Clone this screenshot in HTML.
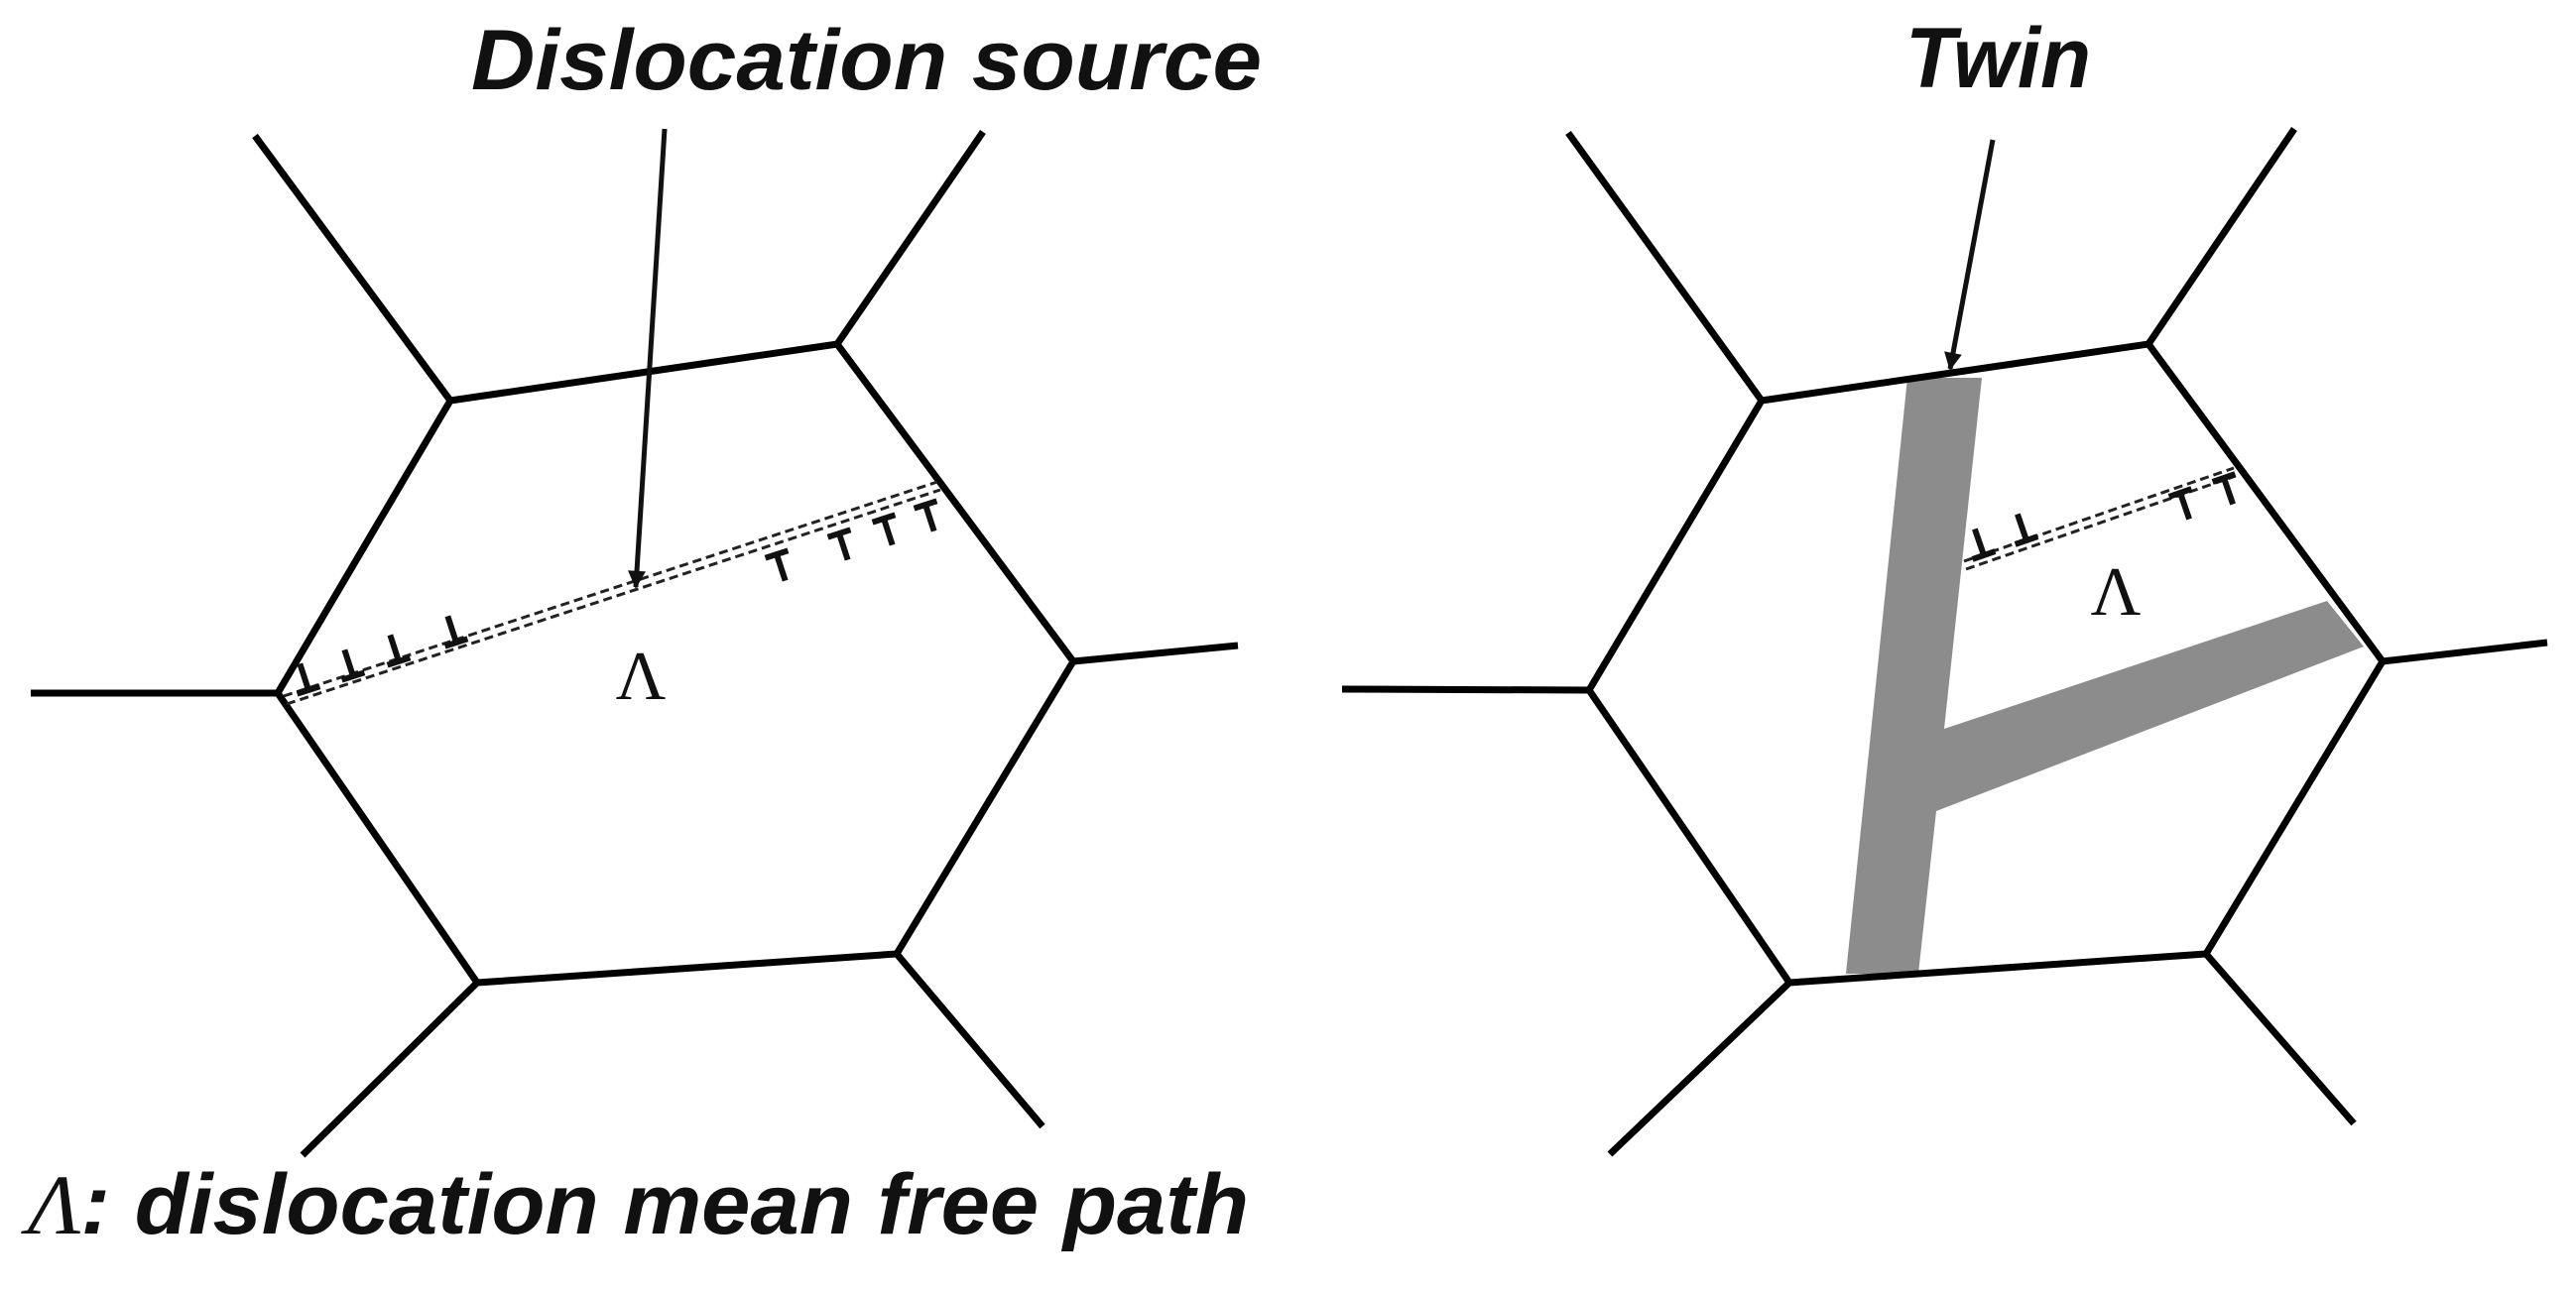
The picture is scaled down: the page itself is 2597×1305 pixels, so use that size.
<!DOCTYPE html>
<html><head><meta charset="utf-8"><style>
html,body{margin:0;padding:0;background:#fff;}
svg{display:block;}
.t{font-family:"Liberation Sans",sans-serif;font-weight:bold;font-style:italic;fill:#111;}
.g{font-family:"Liberation Serif",serif;fill:#111;}
</style></head><body>
<svg width="2597" height="1305" viewBox="0 0 2597 1305" xmlns="http://www.w3.org/2000/svg">
<defs>
<g id="perp"><line x1="0" y1="0" x2="0" y2="-28" stroke="#111" stroke-width="6"/><line x1="-12" y1="0" x2="12" y2="0" stroke="#111" stroke-width="6"/></g>
<g id="tee"><line x1="0" y1="0" x2="0" y2="28" stroke="#111" stroke-width="6"/><line x1="-12" y1="0" x2="12" y2="0" stroke="#111" stroke-width="6"/></g>
<marker id="ah" viewBox="0 0 10 10" refX="9" refY="5" markerWidth="26" markerHeight="18" orient="auto" markerUnits="userSpaceOnUse"><path d="M0,0 L10,5 L0,10 z" fill="#111"/></marker>
</defs>
<g stroke="#000" stroke-width="7" fill="none" stroke-linejoin="miter">
<polygon points="454,404 844,347 1082,667 904,962 481,991 280,699"/>
<line x1="454" y1="404" x2="257" y2="137"/>
<line x1="844" y1="347" x2="991" y2="133"/>
<line x1="1082" y1="667" x2="1248" y2="651"/>
<line x1="904" y1="962" x2="1051" y2="1136"/>
<line x1="481" y1="991" x2="305" y2="1165"/>
<line x1="280" y1="699" x2="31" y2="699"/>
</g>
<polygon points="1923,381 1998,381 1960,735 2346,606 2383,652 1952,818 1934,982 1861,982" fill="#8c8c8c"/>
<g stroke="#000" stroke-width="7" fill="none">
<polygon points="1776,404 2166,347 2402,667 2224,962 1804,991 1602,696"/>
<line x1="1776" y1="404" x2="1581" y2="134"/>
<line x1="2166" y1="347" x2="2313" y2="130"/>
<line x1="2402" y1="667" x2="2568" y2="648"/>
<line x1="2224" y1="962" x2="2373" y2="1133"/>
<line x1="1804" y1="991" x2="1623" y2="1164"/>
<line x1="1602" y1="696" x2="1353" y2="695"/>
</g>
<g stroke="#222" stroke-width="3" stroke-dasharray="9,5" fill="none">
<line x1="286" y1="702" x2="945" y2="486"/>
<line x1="289" y1="710" x2="948" y2="494"/>
<line x1="1980" y1="566" x2="2252" y2="472"/>
<line x1="1982" y1="574" x2="2254" y2="480"/>
</g>
<g transform="translate(311,696) rotate(-18)"><use href="#perp"/></g>
<g transform="translate(356,682) rotate(-18)"><use href="#perp"/></g>
<g transform="translate(402,667) rotate(-18)"><use href="#perp"/></g>
<g transform="translate(460,648) rotate(-18)"><use href="#perp"/></g>
<g transform="translate(783,559) rotate(-18)"><use href="#tee"/></g>
<g transform="translate(846,538) rotate(-18)"><use href="#tee"/></g>
<g transform="translate(891,523) rotate(-18)"><use href="#tee"/></g>
<g transform="translate(933,509) rotate(-18)"><use href="#tee"/></g>
<g transform="translate(2000,560) rotate(-19)"><use href="#perp"/></g>
<g transform="translate(2043,545) rotate(-19)"><use href="#perp"/></g>
<g transform="translate(2198,497) rotate(-19)"><use href="#tee"/></g>
<g transform="translate(2242,482) rotate(-19)"><use href="#tee"/></g>
<line x1="670" y1="130" x2="641" y2="592" stroke="#111" stroke-width="5" marker-end="url(#ah)"/>
<line x1="2009" y1="141" x2="1966" y2="372" stroke="#111" stroke-width="5" marker-end="url(#ah)"/>
<text class="t" x="475" y="90" font-size="86" textLength="797" lengthAdjust="spacingAndGlyphs">Dislocation source</text>
<text class="t" x="1921" y="88" font-size="86" textLength="187" lengthAdjust="spacingAndGlyphs">Twin</text>
<text class="g" x="646" y="705" font-size="70" text-anchor="middle">Λ</text>
<text class="g" x="2133" y="620" font-size="70" text-anchor="middle">Λ</text>
<text class="t" x="28" y="1244" font-size="86" textLength="1231" lengthAdjust="spacingAndGlyphs"><tspan font-family="Liberation Serif" font-weight="normal">Λ</tspan>: dislocation mean free path</text>
</svg>
</body></html>
